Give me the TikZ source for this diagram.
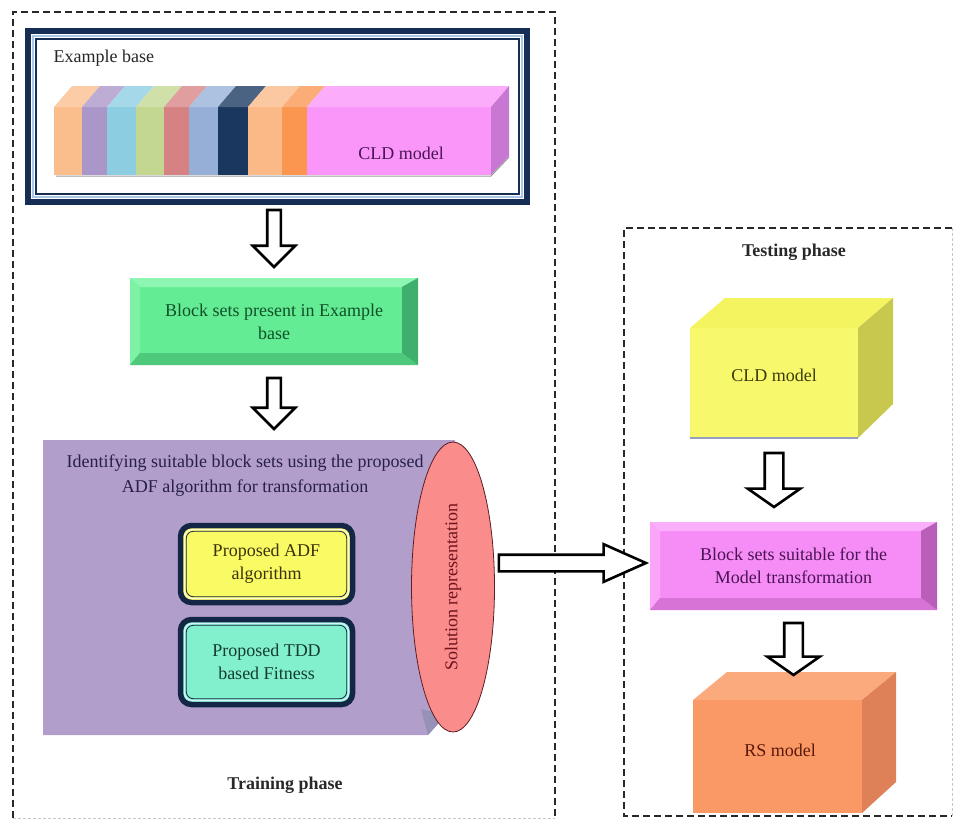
\documentclass[tikz,border=0pt]{standalone}
\usepackage{fontspec}
\setmainfont{Liberation Serif}
\usetikzlibrary{shapes.geometric,shapes.arrows,calc}
\definecolor{navy}{RGB}{22,45,85}
\definecolor{framelb}{RGB}{170,200,230}
\definecolor{gmain}{RGB}{100,236,148}
\definecolor{gtop}{RGB}{140,246,178}
\definecolor{gleft}{RGB}{125,242,165}
\definecolor{gright}{RGB}{62,175,108}
\definecolor{gbot}{RGB}{78,200,122}
\definecolor{gtext}{RGB}{15,80,40}
\definecolor{pmain}{RGB}{246,140,246}
\definecolor{ptop}{RGB}{250,175,250}
\definecolor{pleft}{RGB}{250,165,250}
\definecolor{pright}{RGB}{185,95,185}
\definecolor{pbot}{RGB}{215,115,215}
\definecolor{ptext}{RGB}{75,20,85}
\definecolor{purp}{RGB}{178,158,202}
\definecolor{purpfold}{RGB}{150,145,182}
\definecolor{purptext}{RGB}{40,30,75}
\definecolor{adfy}{RGB}{250,250,100}
\definecolor{adftext}{RGB}{60,50,10}
\definecolor{tddc}{RGB}{130,240,205}
\definecolor{tddtext}{RGB}{20,60,50}
\definecolor{boxnavy}{RGB}{20,38,70}
\definecolor{solf}{RGB}{250,140,140}
\definecolor{sold}{RGB}{90,30,35}
\definecolor{soltext}{RGB}{110,20,30}
\definecolor{cyfront}{RGB}{248,248,108}
\definecolor{cytop}{RGB}{244,244,96}
\definecolor{cyright}{RGB}{200,200,78}
\definecolor{cyshadow}{RGB}{150,160,190}
\definecolor{cytext}{RGB}{60,60,10}
\definecolor{orfront}{RGB}{250,152,102}
\definecolor{ortop}{RGB}{250,170,125}
\definecolor{orright}{RGB}{222,128,88}
\definecolor{ortext}{RGB}{90,25,10}
\definecolor{sa}{RGB}{250,190,140}
\definecolor{sb}{RGB}{170,150,200}
\definecolor{sc}{RGB}{140,205,225}
\definecolor{sd}{RGB}{195,215,145}
\definecolor{se}{RGB}{215,130,130}
\definecolor{sf}{RGB}{150,175,215}
\definecolor{sg}{RGB}{25,55,95}
\definecolor{sh}{RGB}{250,185,135}
\definecolor{si}{RGB}{250,150,80}
\definecolor{sj}{RGB}{250,150,250}
\definecolor{sjside}{RGB}{200,120,210}
\definecolor{titlec}{RGB}{40,40,40}
\newcommand\bevelize[5]{%
  \fill[#2] (#1.north west) -- (#1.north east) -- ($(#1.north east)+(-16,9)$) -- ($(#1.north west)+(10,9)$) -- cycle;
  \fill[#3] (#1.north west) -- ($(#1.north west)+(10,9)$) -- ($(#1.south west)+(10,-12)$) -- (#1.south west) -- cycle;
  \fill[#4] (#1.north east) -- (#1.south east) -- ($(#1.south east)+(-16,-12)$) -- ($(#1.north east)+(-16,9)$) -- cycle;
  \fill[#5] (#1.south west) -- ($(#1.south west)+(10,-12)$) -- ($(#1.south east)+(-16,-12)$) -- (#1.south east) -- cycle;
}
\tikzset{
  txt/.style={font=\fontsize{18}{23}\selectfont},
  phase/.style={draw=titlec, line width=1.3pt, dash pattern=on 7pt off 4pt},
  faintphase/.style={draw=gray!45, line width=1pt, dash pattern=on 3pt off 2pt},
  bevelbox/.style={txt, rectangle, outer sep=0pt, inner sep=0pt, align=center},
  rbox/.style={txt, draw=boxnavy, line width=5.5pt, rounded corners=11pt, minimum width=172pt, outer sep=0pt, align=center},
  hollow/.style={single arrow, draw=black, fill=white, line width=2.6pt, inner xsep=0pt, outer sep=0pt, anchor=tail},
  downarr/.style={hollow, inner ysep=5.5pt, single arrow head extend=14.5pt, single arrow tip angle=90, minimum height=56pt, rotate=-90},
  downarrb/.style={hollow, inner ysep=8pt, single arrow head extend=17pt, single arrow tip angle=110, minimum height=53pt, rotate=-90},
  rightarr/.style={hollow, inner ysep=7pt, single arrow head extend=10.5pt, single arrow tip angle=48, minimum height=147pt},
  facefront/.style={rectangle, outer sep=0pt, inner sep=0pt, txt}
}
\begin{document}
\begin{tikzpicture}[x=1pt,y=-1pt]
\useasboundingbox[fill=white] (0,0) rectangle (957,823);

% ---------- phase frames
\draw[phase] (13,818) -- (13,12) -- (555,12) -- (555,818);
\draw[faintphase] (13,818) -- (555,818);
\draw[phase] (952,228) -- (624,228) -- (624,816) -- (952,816);
\draw[faintphase] (952,228) -- (952,816);
\node[txt, font=\fontsize{18}{23}\selectfont\bfseries, text=titlec] (trainlbl) at (285,785) {Training phase};
\node[txt, font=\fontsize{18}{23}\selectfont\bfseries, text=titlec] (testlbl) at (794,252) {Testing phase};

% ---------- Example base
\node[draw=navy, line width=6pt, fill=white, minimum width=499pt, minimum height=171pt, outer sep=0pt] (exbase) at (277.5,116.5) {};
\draw[framelb, line width=1.5pt] ($(exbase.north west)+(5,5)$) rectangle ($(exbase.south east)+(-5,-5)$);
\draw[navy, line width=1.3pt] ($(exbase.north west)+(8,8)$) rectangle ($(exbase.south east)+(-8,-8)$);
\node[txt, anchor=west, text=black!85] (exlbl) at (50,58) {Example base};
\foreach \xa/\xb/\c in {54/82/sa,82/107/sb,107/136/sc,136/164/sd,164/189/se,189/218/sf,218/248/sg,248/282/sh,282/307/si,307/491/sj}{
  \fill[\c] (\xa,107) rectangle (\xb,175);
  \fill[\c!78!white] (\xa,107) -- (\xa+18,86) -- (\xb+18,86) -- (\xb,107) -- cycle;
}
\fill[sjside] (491,107) -- (509,86) -- (509,156) -- (491,175) -- cycle;
\draw[black!40, line width=1pt] (56,176) -- (491,176) -- (509,157);
\node[txt, text=ptext] (bar) at (401,153) {CLD model};

% ---------- Block sets present
\node[bevelbox, fill=gmain, minimum width=288pt, minimum height=87pt, text=gtext] (blocks) at (274,321.5) {Block sets present in Example\\base};
\bevelize{blocks}{gtop}{gleft}{gright}{gbot}

% ---------- identifying area
\node[minimum width=412pt, minimum height=295pt, outer sep=0pt, inner sep=0pt] (ident) at (249,587.5) {};
\fill[purp] (ident.north west) -- (ident.north east) -- ($(ident.south east)+(0,-30)$) -- ($(ident.south east)+(-27,0)$) -- (ident.south west) -- cycle;
\fill[purpfold] ($(ident.south east)+(0,-30)$) .. controls ($(ident.south east)+(-20,-22)$) .. ($(ident.south east)+(-34,-26)$) -- ($(ident.south east)+(-27,0)$) -- cycle;
\node[txt, align=center, text=purptext, font=\fontsize{18}{25}\selectfont] (identtxt) at (245,476) {Identifying suitable block sets using the proposed\\ADF algorithm for transformation};

\node[rbox, fill=adfy, minimum height=77pt, text=adftext] (adf) at (266.5,564) {Proposed ADF\\algorithm};
\draw[white!85!yellow, line width=1.2pt, rounded corners=8pt] ($(adf.north west)+(4,4)$) rectangle ($(adf.south east)+(-4,-4)$);
\draw[boxnavy, line width=0.8pt, rounded corners=7pt] ($(adf.north west)+(5.8,5.8)$) rectangle ($(adf.south east)+(-5.8,-5.8)$);

\node[rbox, fill=tddc, minimum height=85pt, text=tddtext] (tdd) at (266.5,662) {Proposed TDD\\based Fitness};
\draw[white!85!cyan, line width=1.2pt, rounded corners=8pt] ($(tdd.north west)+(4,4)$) rectangle ($(tdd.south east)+(-4,-4)$);
\draw[boxnavy, line width=0.8pt, rounded corners=7pt] ($(tdd.north west)+(5.8,5.8)$) rectangle ($(tdd.south east)+(-5.8,-5.8)$);

\node[ellipse, fill=solf, draw=sold, line width=0.8pt, minimum width=83pt, minimum height=290pt, inner sep=0pt] (sol) at (453,587) {};
\node[txt, rotate=90, text=soltext] (soltxt) at (sol.center) {Solution representation};

% ---------- testing side
\node[facefront, fill=cyfront, minimum width=168pt, minimum height=110pt] (cld) at (774,383) {};
\fill[cytop] (cld.north west) -- ++(35,-30) -- ++(168,0) -- (cld.north east) -- cycle;
\fill[cyright] (cld.north east) -- ++(35,-30) -- ++(0,106) -- (cld.south east) -- cycle;
\draw[cyshadow, line width=1.2pt] (cld.south west) -- (cld.south east);
\node[txt, text=cytext] (cldtxt) at (774,375) {CLD model};

\node[bevelbox, fill=pmain, minimum width=287pt, minimum height=88pt, text=ptext] (suit) at (793.5,566) {Block sets suitable for the\\Model transformation};
\bevelize{suit}{ptop}{pleft}{pright}{pbot}

\node[facefront, fill=orfront, minimum width=169pt, minimum height=113pt] (rs) at (777.5,756.5) {};
\fill[ortop] (rs.north west) -- ++(34,-28) -- ++(169,0) -- (rs.north east) -- cycle;
\fill[orright] (rs.north east) -- ++(34,-28) -- ++(0,110) -- (rs.south east) -- cycle;
\node[txt, text=ortext] (rstxt) at (780,750) {RS model};

% ---------- hollow arrows
\node[downarr, minimum height=57pt] (a1) at ($(blocks.north)+(0,-68)$) {};
\node[downarr, minimum height=51pt] (a2) at ($(blocks.south)+(0,13)$) {};
\node[rightarr] (a3) at ($(sol.east |- suit.center)+(4,-3)$) {};
\node[downarrb, minimum height=54pt] (a4) at ($(cld.south)+(0,15)$) {};
\node[downarrb, minimum height=52pt] (a5) at ($(suit.south)+(0,13)$) {};
\end{tikzpicture}
\end{document}
